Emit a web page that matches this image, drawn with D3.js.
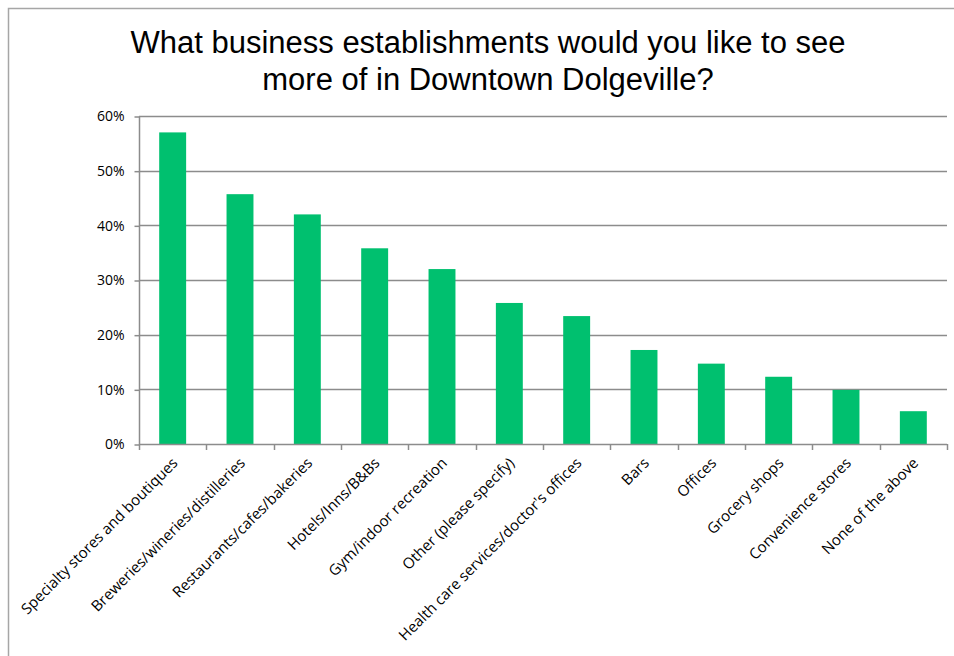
<!DOCTYPE html>
<html>
<head>
<meta charset="utf-8">
<script src="https://cdn.jsdelivr.net/npm/d3@7"></script>
<style>
  body { margin: 0; background: #fff; }
  svg { display: block; }
</style>
</head>
<body>
<div class="chart"></div>
<script>
// Survey answers
const categories = [
  "Specialty stores and boutiques",
  "Breweries/wineries/distilleries",
  "Restaurants/cafes/bakeries",
  "Hotels/Inns/B&Bs",
  "Gym/indoor recreation",
  "Other (please specify)",
  "Health care services/doctor's offices",
  "Bars",
  "Offices",
  "Grocery shops",
  "Convenience stores",
  "None of the above"
];
const shares = [0.57, 0.457, 0.42, 0.358, 0.32, 0.258, 0.234, 0.172, 0.147, 0.123, 0.099, 0.06];
const yTicks = [0, 0.1, 0.2, 0.3, 0.4, 0.5, 0.6];

const width = 954;
const height = 656;
const margin = {top: 116, left: 139, right: 7, bottom: 212};

const labelFont = "'Open Sans', sans-serif";

const svg = d3.select('.chart')
  .append('svg')
  .attr('width', width)
  .attr('height', height);

// chart frame (runs off the right and bottom edge)
svg.append('rect')
  .attr('x', 8.5)
  .attr('y', 8.5)
  .attr('width', width + 20)
  .attr('height', height + 20)
  .attr('fill', 'none')
  .attr('stroke', '#a6a6a6')
  .attr('stroke-width', 1.5);

const xScale = d3.scaleBand()
  .domain(categories)
  .range([margin.left, width - margin.right])
  .paddingInner(0.6)
  .paddingOuter(0.3);

const yScale = d3.scaleLinear()
  .domain([0, 0.6])
  .range([height - margin.bottom, margin.top]);

// gridlines
svg.append('g')
  .selectAll('line')
  .data(yTicks.slice(1))
  .enter()
  .append('line')
  .attr('x1', margin.left)
  .attr('x2', width - margin.right)
  .attr('y1', d => Math.round(yScale(d)) + 0.5)
  .attr('y2', d => Math.round(yScale(d)) + 0.5)
  .attr('stroke', '#8c8c8c')
  .attr('stroke-width', 1.5);

// bars
svg.selectAll('.bar')
  .data(shares)
  .enter()
  .append('rect')
  .attr('class', 'bar')
  .attr('x', (d, i) => xScale(categories[i]))
  .attr('width', xScale.bandwidth())
  .attr('y', d => yScale(d))
  .attr('height', d => yScale(0) - yScale(d))
  .attr('fill', '#00c06f');

// y axis
const yAxis = d3.axisLeft(yScale)
  .tickValues(yTicks)
  .tickFormat(d3.format('.0%'))
  .tickSize(5)
  .tickPadding(10);

const gy = svg.append('g')
  .attr('transform', `translate(${margin.left + 0.5},0.5)`)
  .call(yAxis);
gy.selectAll('path, line').attr('stroke', '#8c8c8c').attr('stroke-width', 1.5);
gy.select('.domain').attr('d', `M0,${yScale(0.6)}V${yScale(0)}`);
gy.selectAll('text')
  .attr('font-family', labelFont)
  .attr('font-size', 14)
  .attr('fill', '#000');

// x axis with ticks between categories
const step = xScale.step();
const xEdges = d3.range(categories.length + 1).map(i => margin.left + i * step);

svg.append('line')
  .attr('x1', margin.left)
  .attr('x2', width - margin.right)
  .attr('y1', yScale(0) + 0.5)
  .attr('y2', yScale(0) + 0.5)
  .attr('stroke', '#8c8c8c')
  .attr('stroke-width', 1.5);

svg.append('g')
  .selectAll('line')
  .data(xEdges)
  .enter()
  .append('line')
  .attr('x1', d => Math.round(d) + 0.5)
  .attr('x2', d => Math.round(d) + 0.5)
  .attr('y1', yScale(0))
  .attr('y2', yScale(0) + 6)
  .attr('stroke', '#8c8c8c')
  .attr('stroke-width', 1.5);

// rotated category labels
svg.append('g')
  .selectAll('text')
  .data(categories)
  .enter()
  .append('text')
  .attr('transform', d => `translate(${xScale(d) + xScale.bandwidth() / 2 + 6},${yScale(0) + 20}) rotate(-45)`)
  .attr('text-anchor', 'end')
  .attr('font-family', labelFont)
  .attr('font-size', 15)
  .attr('fill', '#000')
  .text(d => d);

// title
const title = svg.append('text')
  .attr('x', 488)
  .attr('y', 53)
  .attr('text-anchor', 'middle')
  .attr('font-family', "'Liberation Sans', Arial, sans-serif")
  .attr('font-size', 31)
  .attr('fill', '#000');
title.append('tspan').attr('x', 488).attr('dy', 0).text('What business establishments would you like to see');
title.append('tspan').attr('x', 488).attr('dy', 37).text('more of in Downtown Dolgeville?');
</script>
</body>
</html>
